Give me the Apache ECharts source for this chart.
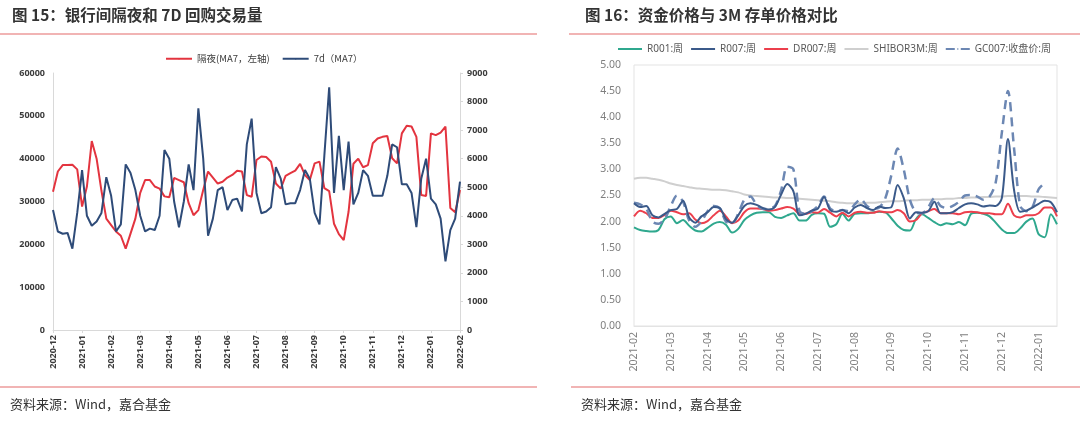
<!DOCTYPE html>
<html><head><meta charset="utf-8">
<script src="https://cdn.jsdelivr.net/npm/echarts@6/dist/echarts.min.js"></script>
<style>html,body{margin:0;padding:0;background:#fff}#c{width:1080px;height:421px}</style>
</head><body><div id="c"></div>
<script>
// ---------- Left chart: 银行间隔夜和7D回购交易量 ----------
const leftMonths = ['2020-12','2021-01','2021-02','2021-03','2021-04','2021-05','2021-06','2021-07','2021-08','2021-09','2021-10','2021-11','2021-12','2022-01','2022-02'];
const overnight = [32300,37000,38500,38500,38600,37500,28800,33500,44100,40000,32500,26000,24500,23000,22000,19000,22500,26000,32000,35000,35000,33500,33000,31200,31000,35500,35000,34500,29600,26800,28000,32700,37000,35600,34200,34600,35600,36200,37200,37000,31500,31100,39700,40500,40400,39300,34200,33000,36000,36600,37200,38800,36200,35000,38900,39300,33100,32400,24800,22400,21000,27600,38800,40000,38000,38500,43600,44700,45100,45300,40100,38900,45900,47700,47500,45100,31500,31300,45900,45500,46100,47500,28500,27500,32700];
const repo7d = [4200,3450,3370,3400,2850,4100,5600,4000,3650,3800,4100,5350,4700,3450,3700,5800,5500,4900,4000,3450,3550,3500,4000,6300,6000,4500,3600,4500,5800,4900,7760,6000,3300,3900,4900,5000,4200,4550,4600,4150,6500,7400,4800,4090,4150,4300,5700,5300,4400,4440,4440,4900,5600,5300,4100,3700,6100,8500,4800,6800,4900,6600,4400,4800,5600,5400,4700,4700,4700,5400,6500,6400,5100,5100,4800,3600,5300,6000,4600,4400,3900,2400,3500,3900,5200];

// ---------- Right chart: 资金价格与3M存单价格对比 ----------
const rightMonths = ['2021-02','2021-03','2021-04','2021-05','2021-06','2021-07','2021-08','2021-09','2021-10','2021-11','2021-12','2022-01'];
const r001 = [1.89,1.84,1.82,1.81,1.84,2.05,2.10,1.97,2.03,1.92,1.83,1.81,1.88,1.96,1.99,1.94,1.79,1.86,2.03,2.12,2.17,2.18,2.18,2.09,2.07,2.12,2.16,2.02,2.02,2.13,2.16,2.15,1.90,1.95,2.15,2.02,2.15,2.16,2.16,2.18,2.19,2.18,2.06,1.92,1.84,1.83,2.05,2.14,2.07,1.99,1.93,1.97,1.95,1.99,1.93,2.15,2.17,2.15,2.10,1.98,1.85,1.78,1.78,1.87,2.00,2.06,1.76,1.70,2.14,1.95];
const r007 = [2.35,2.28,2.30,2.12,2.08,2.15,2.22,2.24,2.40,2.08,1.98,2.10,2.18,2.28,2.26,2.05,1.98,2.12,2.30,2.35,2.32,2.26,2.23,2.28,2.52,2.72,2.58,2.12,2.15,2.21,2.25,2.47,2.22,2.19,2.22,2.16,2.27,2.32,2.26,2.22,2.29,2.26,2.28,2.70,2.45,2.06,2.18,2.17,2.20,2.38,2.16,2.16,2.18,2.26,2.33,2.35,2.33,2.29,2.31,2.30,2.45,3.58,2.60,2.19,2.21,2.27,2.34,2.40,2.37,2.18];
const dr007 = [2.10,2.21,2.16,2.07,2.07,2.13,2.21,2.18,2.14,2.16,2.04,1.97,2.01,2.12,2.21,2.10,1.97,2.02,2.18,2.25,2.25,2.24,2.21,2.22,2.25,2.28,2.25,2.15,2.15,2.18,2.17,2.24,2.17,2.10,2.17,2.10,2.17,2.19,2.17,2.17,2.20,2.18,2.18,2.22,2.16,2.00,2.03,2.16,2.20,2.24,2.16,2.16,2.16,2.14,2.18,2.19,2.18,2.16,2.16,2.14,2.14,2.34,2.12,2.08,2.12,2.12,2.16,2.27,2.27,2.10];
const shibor3m = [2.82,2.84,2.84,2.82,2.80,2.77,2.73,2.70,2.68,2.66,2.64,2.63,2.62,2.61,2.61,2.60,2.58,2.56,2.52,2.50,2.49,2.48,2.47,2.46,2.46,2.45,2.45,2.44,2.43,2.42,2.41,2.40,2.39,2.37,2.36,2.35,2.35,2.35,2.36,2.36,2.37,2.38,2.39,2.39,2.40,2.41,2.41,2.42,2.42,2.43,2.43,2.44,2.44,2.45,2.45,2.46,2.46,2.47,2.47,2.48,2.48,2.49,2.49,2.49,2.49,2.48,2.48,2.47,2.46,2.45];
const gc007 = [2.36,2.33,2.25,2.00,1.96,2.05,2.30,2.50,2.38,2.02,1.90,2.00,2.20,2.30,2.25,2.00,1.97,2.15,2.42,2.48,2.32,2.24,2.25,2.30,2.60,3.05,3.00,2.20,2.15,2.20,2.30,2.48,2.25,2.20,2.22,2.20,2.33,2.43,2.30,2.25,2.27,2.45,2.90,3.40,3.00,2.42,2.18,2.16,2.28,2.45,2.30,2.26,2.30,2.38,2.50,2.51,2.48,2.42,2.48,2.75,3.70,4.50,3.40,2.30,2.20,2.28,2.62,2.74,null,null];

function buildCats(months, perMonth, count) {
  const out = [];
  for (let i = 0; i < count; i++) {
    const m = months[Math.floor(i / perMonth)];
    const k = i % perMonth;
    out.push(k === 0 ? m : m + '#' + k);
  }
  return out;
}
const leftCats = buildCats(leftMonths, 6, overnight.length);
const rightCats = buildCats(rightMonths, 6, r001.length);
const catFmt = v => String(v).split('#')[0];

const C_RED = '#e3343f', C_BLUE = '#2e4b78';
const C_TEAL = '#2fa88e', C_R007 = '#3b5a8a', C_DR = '#ec3f4c', C_GRAY = '#cfcfcf', C_GC = '#6c87b3';
const FONT = '"Noto Sans", "Noto Sans CJK SC", sans-serif';
const leftLbl = { fontSize: 9, fontWeight: 'bold', color: '#3c3c3c', fontFamily: FONT };
const rightLbl = { fontSize: 10.5, color: '#7f7f7f', fontFamily: FONT };
const axisGray = { lineStyle: { color: '#d9d9d9', width: 1 } };

const chart = echarts.init(document.getElementById('c'), null, { renderer: 'canvas' });
chart.setOption({
  animation: false,
  backgroundColor: '#fff',
  textStyle: { fontFamily: FONT },
  graphic: [
    { type: 'text', left: 12, top: 7, style: { text: '图 15：银行间隔夜和 7D 回购交易量', font: 'bold 15.5px "Noto Sans CJK SC", sans-serif', fill: '#333' } },
    { type: 'line', shape: { x1: 0, y1: 34, x2: 537, y2: 34 }, style: { stroke: '#e46a6a', lineWidth: 1.2 } },
    { type: 'text', left: 585, top: 7, style: { text: '图 16：资金价格与 3M 存单价格对比', font: 'bold 15.5px "Noto Sans CJK SC", sans-serif', fill: '#333' } },
    { type: 'line', shape: { x1: 569, y1: 34, x2: 1080, y2: 34 }, style: { stroke: '#e46a6a', lineWidth: 1.2 } },
    { type: 'line', shape: { x1: 0, y1: 387, x2: 537, y2: 387 }, style: { stroke: '#e46a6a', lineWidth: 1.2 } },
    { type: 'line', shape: { x1: 571, y1: 387, x2: 1080, y2: 387 }, style: { stroke: '#e46a6a', lineWidth: 1.2 } },
    { type: 'text', left: 10, top: 398, style: { text: '资料来源：Wind，嘉合基金', font: '13px "Noto Sans CJK SC", sans-serif', fill: '#333' } },
    { type: 'text', left: 581, top: 398, style: { text: '资料来源：Wind，嘉合基金', font: '13px "Noto Sans CJK SC", sans-serif', fill: '#333' } }
  ],
  legend: [
    { left: 160, top: 49, itemWidth: 26, itemHeight: 2, itemGap: 12, textStyle: { fontSize: 9.5, color: '#3c3c3c', fontFamily: '"Noto Sans CJK SC", sans-serif' }, data: ['隔夜(MA7，左轴)', '7d（MA7）'] },
    { left: 612, top: 39, width: 460, itemWidth: 24, itemHeight: 2, itemGap: 7, textStyle: { fontSize: 10, color: '#595959', fontFamily: FONT }, data: ['R001:周', 'R007:周', 'DR007:周', 'SHIBOR3M:周', 'GC007:收盘价:周'] }
  ],
  grid: [
    { left: 53, top: 73, width: 407, height: 257, outerBoundsMode: 'none' },
    { left: 634, top: 65, width: 423, height: 261, show: true, borderColor: '#e3e3e3', borderWidth: 1, outerBoundsMode: 'none' }
  ],
  xAxis: [
    { type: 'category', gridIndex: 0, data: leftCats, boundaryGap: false,
      axisLine: axisGray, axisTick: { show: true, interval: 5, length: 3, lineStyle: { color: '#d9d9d9' } },
      axisLabel: Object.assign({ interval: 5, rotate: 90, margin: 5, formatter: catFmt }, leftLbl) },
    { type: 'category', gridIndex: 1, data: rightCats, boundaryGap: false,
      axisLine: { lineStyle: { color: '#e3e3e3' } }, axisTick: { show: false },
      axisLabel: Object.assign({ interval: 5, rotate: 90, margin: 6, formatter: catFmt }, rightLbl) }
  ],
  yAxis: [
    { type: 'value', gridIndex: 0, min: 0, max: 60000, interval: 10000, splitLine: { show: false },
      axisLine: { show: true, lineStyle: { color: '#d9d9d9' } }, axisTick: { show: false },
      axisLabel: Object.assign({ margin: 8, formatter: v => String(v) }, leftLbl) },
    { type: 'value', gridIndex: 0, position: 'right', min: 0, max: 9000, interval: 1000, splitLine: { show: false },
      axisLine: { show: true, lineStyle: { color: '#d9d9d9' } }, axisTick: { show: true, length: 3, lineStyle: { color: '#d9d9d9' } },
      axisLabel: Object.assign({ margin: 7, formatter: v => String(v) }, leftLbl) },
    { type: 'value', gridIndex: 1, min: 0, max: 5, interval: 0.5, splitLine: { show: false },
      axisLine: { show: false }, axisTick: { show: false },
      axisLabel: Object.assign({ margin: 13, formatter: v => v.toFixed(2) }, rightLbl) }
  ],
  series: [
    { name: '隔夜(MA7，左轴)', type: 'line', xAxisIndex: 0, yAxisIndex: 0, data: overnight, symbol: 'none', color: C_RED, lineStyle: { width: 2, color: C_RED } },
    { name: '7d（MA7）', type: 'line', xAxisIndex: 0, yAxisIndex: 1, data: repo7d, symbol: 'none', color: C_BLUE, lineStyle: { width: 2, color: C_BLUE } },
    { name: 'SHIBOR3M:周', type: 'line', xAxisIndex: 1, yAxisIndex: 2, data: shibor3m, smooth: 0.3, symbol: 'none', color: C_GRAY, lineStyle: { width: 2, color: C_GRAY }, z: 1 },
    { name: 'R001:周', type: 'line', xAxisIndex: 1, yAxisIndex: 2, data: r001, smooth: 0.3, symbol: 'none', color: C_TEAL, lineStyle: { width: 2, color: C_TEAL }, z: 2 },
    { name: 'DR007:周', type: 'line', xAxisIndex: 1, yAxisIndex: 2, data: dr007, smooth: 0.3, symbol: 'none', color: C_DR, lineStyle: { width: 2, color: C_DR }, z: 3 },
    { name: 'GC007:收盘价:周', type: 'line', xAxisIndex: 1, yAxisIndex: 2, data: gc007, smooth: 0.3, symbol: 'none', color: C_GC, lineStyle: { width: 2.5, color: C_GC, type: [9, 6] }, z: 4 },
    { name: 'R007:周', type: 'line', xAxisIndex: 1, yAxisIndex: 2, data: r007, smooth: 0.3, symbol: 'none', color: C_R007, lineStyle: { width: 2, color: C_R007 }, z: 5 }
  ]
});
</script>
</body></html>
